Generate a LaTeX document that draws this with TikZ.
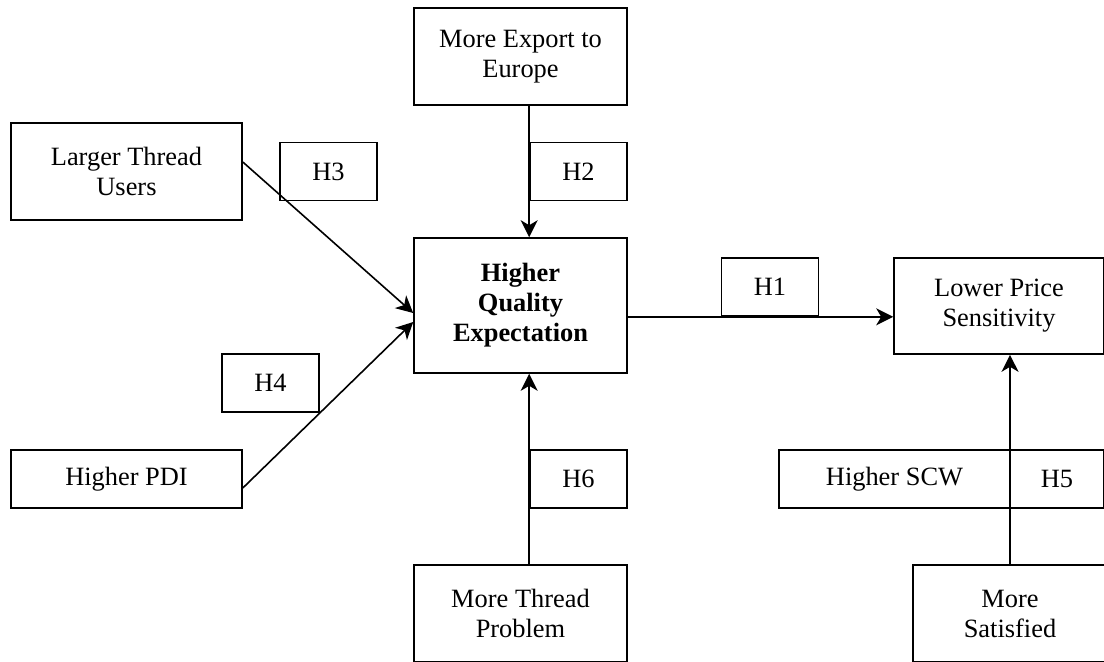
\documentclass[tikz,border=0pt]{standalone}
\usepackage{fontspec}
\setmainfont{Liberation Serif}
\usetikzlibrary{arrows.meta}
\tikzstyle{factor} = [rectangle, draw=black, line width=0.8pt, align=center, inner sep=0pt, minimum width=115.5pt, minimum height=48.5pt]
\tikzstyle{central} = [factor, minimum width=106.5pt, font=\fontsize{13.2}{15}\selectfont\bfseries]
\tikzstyle{hyp} = [rectangle, draw=black, line width=0.8pt, inner sep=0pt, minimum width=48.5pt, minimum height=29pt]
\tikzstyle{arrow} = [line width=0.8pt, -{Stealth[length=8.5pt, width=8.5pt, inset=2.5pt]}]

\begin{document}
\begin{tikzpicture}[x=0.5pt, y=-0.5pt, font=\fontsize{13.2}{15}\selectfont]

\clip (0,0) rectangle (1104,661);

\node (users) [factor] at (126.5,171.5) {Larger Thread\\Users};
\node (pdi) [factor, minimum height=29pt] at (126.5,479) {Higher PDI};

\node (export) [factor, minimum width=106.5pt] at (520.5,56.5) {More Export to\\Europe};
\node (quality) [central, minimum height=67.5pt] at (520.5,305.5) {Higher\\Quality\\Expectation};
\node (problem) [factor, minimum width=106.5pt] at (520.5,613.5) {More Thread\\Problem};

\node (lower) [factor, minimum width=105pt, minimum height=48pt] at (999,306) {Lower Price\\Sensitivity};
\node (scw) [factor, minimum height=29pt] at (894.5,479) {Higher SCW};
\node (satisfied) [factor, minimum width=97pt] at (1010,613.5) {More\\Satisfied};

\node (h3) [hyp] at (328.5,171.5) {H3};
\node (h2) [hyp] at (578.5,171.5) {H2};
\node (h4) [hyp] at (270.5,383) {H4};
\node (h1) [hyp] at (770,287) {H1};
\node (h6) [hyp] at (578.5,479) {H6};
\node (h5) [hyp, minimum width=47pt] at (1057,479) {H5};

\draw [arrow] ([yshift=4.75pt]users.east) -- ([yshift=-3.75pt]quality.west);
\draw [arrow] ([yshift=-4.5pt]pdi.east) -- ([yshift=-8.25pt]quality.west);
\draw [arrow] (export.south -| h2.west) -- (quality.north -| h2.west);
\draw [arrow] (problem.north -| h6.west) -- (quality.south -| h6.west);
\draw [arrow] (quality.east |- h1.south) -- (lower.west |- h1.south);
\draw [arrow] (satisfied.north) -- (lower.south -| satisfied.north);

\end{tikzpicture}
\end{document}
